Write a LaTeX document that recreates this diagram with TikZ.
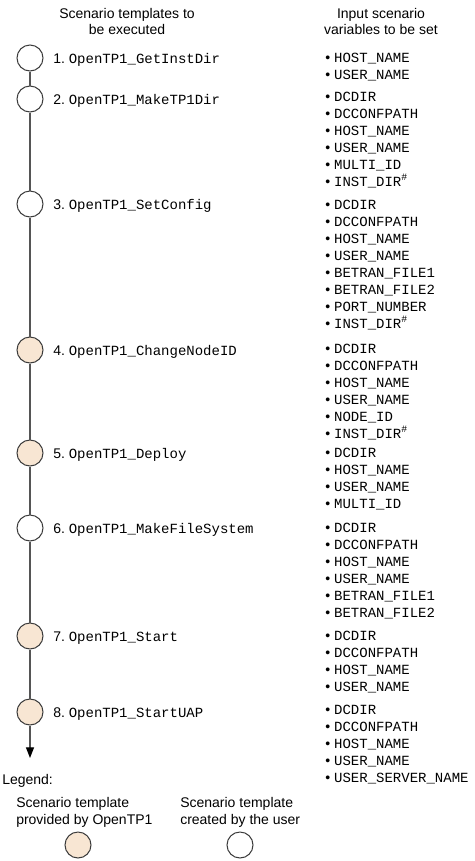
\documentclass[tikz,border=0pt]{standalone}
\usepackage{fontspec}
\setmainfont{Liberation Sans}
\setmonofont{Liberation Mono}
\usetikzlibrary{arrows.meta}
\definecolor{Canvas}{HTML}{FFFFFF}
\definecolor{StepFill}{HTML}{F8E6D3}
\definecolor{StepRing}{HTML}{3C3C3C}
\definecolor{Spine}{HTML}{555555}
\definecolor{TextInk}{HTML}{000000}

\begin{document}
\begin{tikzpicture}[x=0.75pt,y=-0.75pt,every node/.style={text=TextInk,font=\fontsize{10.5}{12}\selectfont,inner sep=0pt},ring/.style={circle,draw=StepRing,line width=0.75pt,minimum size=19.5pt,inner sep=0pt},given/.style={ring,fill=StepFill},own/.style={ring,fill=Canvas},spine/.style={draw=Spine,line width=0.9pt},var/.style={anchor=base west}]
\fill[Canvas] (0,0) rectangle (475,861);
\node[align=center] (h1) at (127,21){Scenario templates to\\be executed};
\node[align=center] (h2) at (381,21){Input scenario\\variables to be set};
\foreach \n/\y/\w/\kind/\tpl/\vars in {1/58/58/own/GetInstDir/{HOST\_NAME,USER\_NAME},2/99/97/own/MakeTP1Dir/{DCDIR,DCCONFPATH,HOST\_NAME,USER\_NAME,MULTI\_ID,INST\_DIR\textsuperscript{\#}},3/204/205/own/SetConfig/{DCDIR,DCCONFPATH,HOST\_NAME,USER\_NAME,BETRAN\_FILE1,BETRAN\_FILE2,PORT\_NUMBER,INST\_DIR\textsuperscript{\#}},4/350/349/given/ChangeNodeID/{DCDIR,DCCONFPATH,HOST\_NAME,USER\_NAME,NODE\_ID,INST\_DIR\textsuperscript{\#}},5/453/453/given/Deploy/{DCDIR,HOST\_NAME,USER\_NAME,MULTI\_ID},6/528/528/own/MakeFileSystem/{DCDIR,DCCONFPATH,HOST\_NAME,USER\_NAME,BETRAN\_FILE1,BETRAN\_FILE2},7/636/636/given/Start/{DCDIR,DCCONFPATH,HOST\_NAME,USER\_NAME},8/712/710/given/StartUAP/{DCDIR,DCCONFPATH,HOST\_NAME,USER\_NAME,USER\_SERVER\_NAME}}{
  \node[\kind] (t\n) at (30,\y){};
  \node[anchor=base west] (l\n) at (53,\y+5){\n.\ \texttt{OpenTP1\_\tpl}};
  \foreach \v [count=\k] in \vars {\node[var] (v\n-\k) at (325,{\w+17*(\k-1)+4}){\textbullet\hspace{3pt}\texttt{\v}};}
}
\foreach \a/\b in {1/2,2/3,3/4,4/5,5/6,6/7,7/8}{\draw[spine] (t\a) -- (t\b);}
\coordinate (tip) at (30,758);
\draw[spine,-{Triangle[length=8pt,width=6pt,color=black]}] (t8) -- (tip);
\node[anchor=base west] (lg) at (2,784){Legend:};
\node[anchor=west,align=left] (k1t) at (16,812){Scenario template\\[0.75pt]provided by OpenTP1};
\node[anchor=west,align=left] (k2t) at (180,812){Scenario template\\[0.75pt]created by the user};
\node[given] (k1) at (78,845){};
\node[own] (k2) at (240,845){};
\end{tikzpicture}
\end{document}
